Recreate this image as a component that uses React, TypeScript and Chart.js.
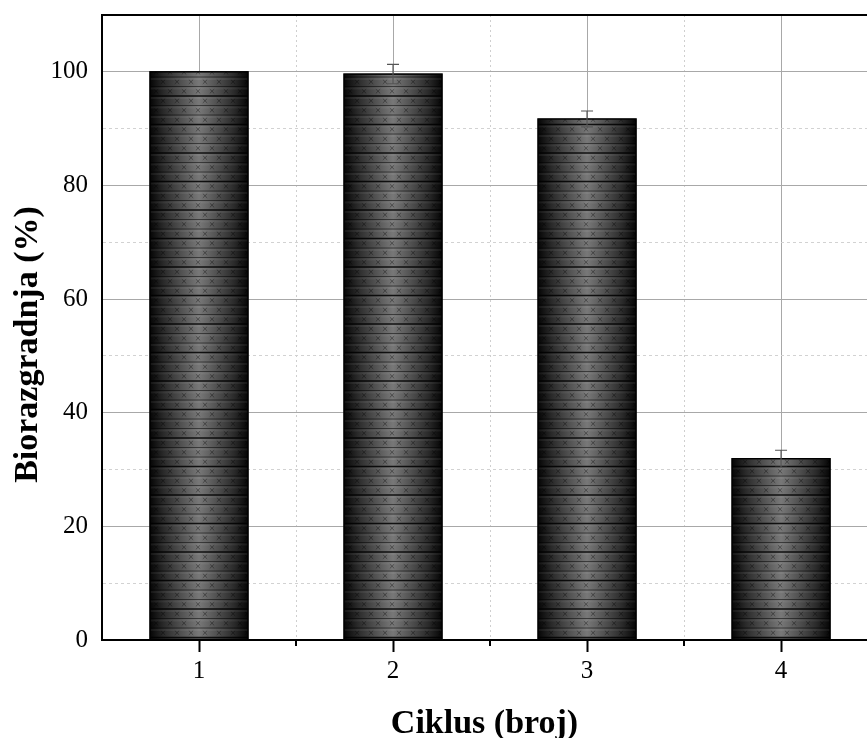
import React, { useEffect, useRef } from 'react';
import { Chart, registerables } from 'chart.js';

Chart.register(...registerables);

// ---- data ----
const cycles = [1, 2, 3, 4];
const cycleLabels = ['1', '2', '3', '4'];
const biodegradation = [100, 99.6, 91.7, 31.9];
const errors = [0, 1.7, 1.4, 1.5];
const yLabelValues = [0, 20, 40, 60, 80, 100];
const xTitle = 'Ciklus (broj)';
const yTitle = 'Biorazgradnja (%)';

const FONT = "'Liberation Serif', 'Times New Roman', serif";

const isInt = (v: number) => Math.abs(v - Math.round(v)) < 1e-6;

const textureAndErrorPlugin = {
  id: 'textureAndError',
  afterDatasetsDraw(chart: any) {
    const ctx: CanvasRenderingContext2D = chart.ctx;
    const meta = chart.getDatasetMeta(0);
    const xScale = chart.scales.x;
    const yScale = chart.scales.y;
    meta.data.forEach((el: any) => {
      const { x, y, base, width } = el.getProps(['x', 'y', 'base', 'width'], true);
      const left = x - width / 2;
      const right = x + width / 2;
      const top = Math.min(y, base);
      const bottom = Math.max(y, base);
      ctx.save();
      ctx.beginPath();
      ctx.rect(left, top, width, bottom - top);
      ctx.clip();
      const g = ctx.createLinearGradient(left, 0, right, 0);
      g.addColorStop(0, '#050505');
      g.addColorStop(0.14, '#2a2a2a');
      g.addColorStop(0.5, '#787878');
      g.addColorStop(0.86, '#2a2a2a');
      g.addColorStop(1, '#050505');
      ctx.fillStyle = g;
      ctx.fillRect(left, top, width, bottom - top);
      const step = 9.5;
      let k = 0;
      for (let yy = bottom - 2; yy > top - step; yy -= step, k++) {
        ctx.fillStyle = 'rgba(255,255,255,0.06)';
        ctx.fillRect(left, yy + 1, width, 2);
        ctx.strokeStyle = k % 3 === 0 ? 'rgba(0,0,0,0.85)' : 'rgba(0,0,0,0.5)';
        ctx.lineWidth = k % 3 === 0 ? 1.6 : 1;
        ctx.beginPath();
        ctx.moveTo(left, yy);
        ctx.lineTo(right, yy);
        ctx.stroke();
        const cy = yy - step / 2;
        ctx.strokeStyle = 'rgba(0,0,0,0.4)';
        ctx.lineWidth = 0.9;
        for (let xx = left + (k % 2 ? 6 : 13); xx < right; xx += 14) {
          const s = 2.2;
          ctx.beginPath();
          ctx.moveTo(xx - s, cy - s);
          ctx.lineTo(xx + s, cy + s);
          ctx.moveTo(xx + s, cy - s);
          ctx.lineTo(xx - s, cy + s);
          ctx.stroke();
        }
      }
      ctx.restore();
      ctx.save();
      ctx.strokeStyle = '#000';
      ctx.lineWidth = 1.5;
      ctx.strokeRect(left, top, width, bottom - top);
      ctx.restore();
    });
    // error bars
    ctx.save();
    ctx.strokeStyle = '#555';
    ctx.lineWidth = 1.2;
    errors.forEach((e, i) => {
      if (!e) return;
      const px = xScale.getPixelForValue(cycles[i]);
      const yT = yScale.getPixelForValue(biodegradation[i] + e);
      const yB = yScale.getPixelForValue(biodegradation[i] - e);
      const cap = 6;
      ctx.beginPath();
      ctx.moveTo(px, yT);
      ctx.lineTo(px, yB);
      ctx.moveTo(px - cap, yT);
      ctx.lineTo(px + cap, yT);
      ctx.moveTo(px - cap, yB);
      ctx.lineTo(px + cap, yB);
      ctx.stroke();
    });
    ctx.restore();
  },
  afterDraw(chart: any) {
    const ctx: CanvasRenderingContext2D = chart.ctx;
    const xScale = chart.scales.x;
    const area = chart.chartArea;
    ctx.save();
    ctx.strokeStyle = '#000';
    ctx.lineWidth = 2;
    xScale.ticks.forEach((t: any) => {
      if (isInt(t.value)) return;
      const px = Math.round(xScale.getPixelForValue(t.value));
      ctx.beginPath();
      ctx.moveTo(px, area.bottom);
      ctx.lineTo(px, area.bottom + 6);
      ctx.stroke();
    });
    ctx.fillStyle = '#000';
    ctx.font = `bold 34px ${FONT}`;
    ctx.textAlign = 'center';
    ctx.textBaseline = 'middle';
    ctx.fillText(xTitle, (area.left + area.right) / 2, area.bottom + 84);
    ctx.save();
    ctx.translate(28, (area.top + area.bottom) / 2 + 17);
    ctx.rotate(-Math.PI / 2);
    ctx.fillText(yTitle, 0, 0);
    ctx.restore();
    ctx.restore();
  },
};

export default function App() {
  const ref = useRef<HTMLCanvasElement>(null);
  useEffect(() => {
    if (!ref.current) return;
    const chart = new Chart(ref.current, {
      type: 'bar',
      data: {
        datasets: [
          {
            label: yTitle,
            data: cycles.map((c, i) => ({ x: c, y: biodegradation[i] })),
            backgroundColor: '#444',
            borderWidth: 0,
            barThickness: 98,
          },
        ],
      },
      options: {
        responsive: false,
        animation: false,
        events: [],
        layout: { padding: { top: 15, left: 0, right: 0, bottom: 0 } },
        plugins: { legend: { display: false }, tooltip: { enabled: false } },
        scales: {
          x: {
            type: 'linear',
            min: 0.5,
            max: 4.443,
            offset: false,
            afterFit: (s: any) => {
              s.height = 98;
              s.paddingLeft = 0;
              s.paddingRight = 0;
            },
            afterBuildTicks: (s: any) => {
              const t: any[] = [];
              cycles.forEach((c, i) => {
                t.push({ value: c });
                if (i < cycles.length - 1) t.push({ value: c + 0.5 });
              });
              s.ticks = t;
            },
            ticks: {
              autoSkip: false,
              maxRotation: 0,
              padding: 4,
              color: '#000',
              font: { family: FONT, size: 25 },
              callback: (v: any) => {
                const idx = cycles.indexOf(Number(v));
                return idx >= 0 ? cycleLabels[idx] : '';
              },
            },
            grid: {
              offset: false,
              drawTicks: true,
              tickLength: 12,
              tickWidth: 2,
              tickColor: (c: any) => (c.tick && isInt(c.tick.value) ? '#000' : 'rgba(0,0,0,0)'),
              color: (c: any) => (c.tick && isInt(c.tick.value) ? '#a8a8a8' : '#cfcfcf'),
              lineWidth: 1,
            },
            border: {
              display: true,
              color: '#000',
              width: 2,
              dash: (c: any) => (c.tick && !isInt(c.tick.value) ? [2, 3] : []),
            },
          },
          y: {
            min: 0,
            max: 110,
            afterFit: (s: any) => {
              s.width = 102;
              s.paddingTop = 0;
              s.paddingBottom = 0;
            },
            ticks: {
              stepSize: 10,
              autoSkip: false,
              padding: 14,
              color: '#000',
              font: { family: FONT, size: 25 },
              callback: (v: any) => (yLabelValues.includes(Number(v)) ? String(v) : ''),
            },
            grid: {
              drawTicks: false,
              color: (c: any) => {
                const v = c.tick ? c.tick.value : 0;
                if (v === 0) return 'rgba(0,0,0,0)';
                if (v >= 110) return '#000';
                return v % 20 === 0 ? '#a8a8a8' : '#d2d2d2';
              },
              lineWidth: (c: any) => (c.tick && c.tick.value >= 110 ? 2 : 1),
            },
            border: {
              display: true,
              color: '#000',
              width: 2,
              dash: (c: any) => {
                const v = c.tick ? c.tick.value : 0;
                return v < 110 && v % 20 === 10 ? [3, 3] : [];
              },
            },
          },
        },
      },
      plugins: [textureAndErrorPlugin],
    });
    return () => chart.destroy();
  }, []);
  return (
    <div style={{ position: 'absolute', left: 0, top: 0, width: 867, height: 738, background: '#fff' }}>
      <canvas ref={ref} width={867} height={738} />
    </div>
  );
}
